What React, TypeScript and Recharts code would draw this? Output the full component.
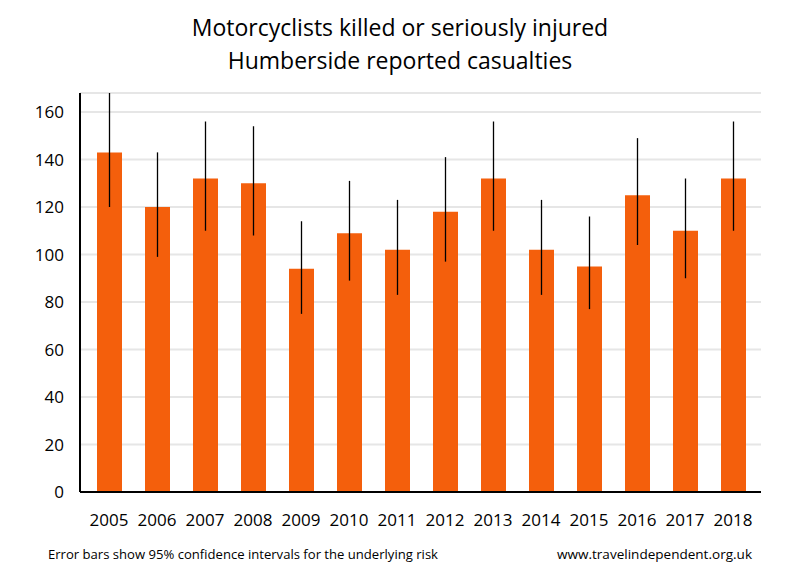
import { Bar, BarChart, CartesianGrid, ErrorBar, XAxis, YAxis } from "recharts";

const years = ["2005", "2006", "2007", "2008", "2009", "2010", "2011", "2012", "2013", "2014", "2015", "2016", "2017", "2018"];
const casualties = [143, 120, 132, 130, 94, 109, 102, 118, 132, 102, 95, 125, 110, 132];
const upperCI = [168, 143, 156, 154, 114, 131, 123, 141, 156, 123, 116, 149, 132, 156];
const lowerCI = [120, 99, 110, 108, 75, 89, 83, 97, 110, 83, 77, 104, 90, 110];
const yTicks = [0, 20, 40, 60, 80, 100, 120, 140, 160];

const data = years.map((year, i) => ({
  year,
  value: casualties[i],
  ci: [casualties[i] - lowerCI[i], upperCI[i] - casualties[i]],
}));

const font = "'Open Sans', sans-serif";

export default function App() {
  return (
    <div style={{ position: "absolute", left: 0, top: 0, width: 800, height: 580, background: "#fff", fontFamily: font }}>
      <div style={{ position: "absolute", left: 0, top: 11, width: 800, textAlign: "center", fontSize: 23, lineHeight: "33px", color: "#000" }}>
        <div>Motorcyclists killed or seriously injured</div>
        <div>Humberside reported casualties</div>
      </div>
      <BarChart width={800} height={580} data={data} margin={{ top: 93, right: 39, bottom: 58, left: 0 }}>
        <CartesianGrid vertical={false} stroke="#e6e6e6" strokeWidth={2} />
        <XAxis
          dataKey="year"
          padding={{ left: 5, right: 4 }}
          tickLine={false}
          axisLine={{ stroke: "#000", strokeWidth: 2 }}
          tick={{ fontSize: 17, fill: "#000", fontFamily: font }}
          tickMargin={16}
          interval={0}
        />
        <YAxis
          domain={[0, 168]}
          ticks={yTicks}
          width={80}
          tickLine={false}
          axisLine={{ stroke: "#000", strokeWidth: 2 }}
          tick={{ fontSize: 17, fill: "#000", fontFamily: font }}
          tickMargin={10}
        />
        <Bar dataKey="value" fill="#F45F0C" barSize={25} isAnimationActive={false}>
          <ErrorBar dataKey="ci" width={0} stroke="#000" strokeWidth={1.3} direction="y" />
        </Bar>
      </BarChart>
      <svg width={800} height={40} style={{ position: "absolute", left: 0, top: 540 }}>
        <text x={48} y={19} fontSize={13} fontFamily="'Open Sans', sans-serif" textLength={390} lengthAdjust="spacingAndGlyphs">
          Error bars show 95% confidence intervals for the underlying risk
        </text>
        <text x={557} y={19} fontSize={13} fontFamily="'Open Sans', sans-serif" textLength={195} lengthAdjust="spacingAndGlyphs">
          www.travelindependent.org.uk
        </text>
      </svg>
    </div>
  );
}
